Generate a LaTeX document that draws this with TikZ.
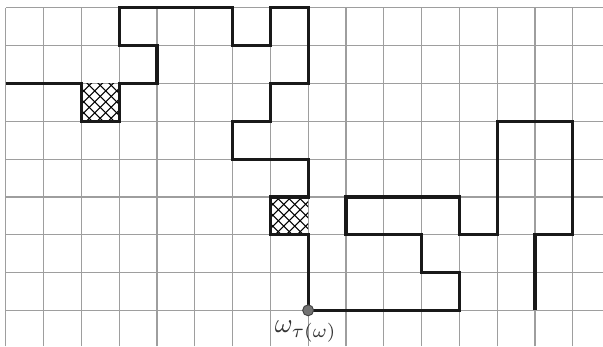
\documentclass[tikz,border=0pt]{standalone}
\begin{document}
\begin{tikzpicture}[x=1cm,y=1cm,
  gridline/.style={draw=black!38, line width=0.9pt},
  walk/.style={draw=black!90, line width=2.4pt, line join=miter, line cap=butt},
  hatch/.style={draw=black, line width=0.8pt},
  dotnode/.style={circle, fill=black!55, draw=black!75, line width=0.7pt, inner sep=0pt, minimum size=0.29cm}]
\useasboundingbox (-0.151,-0.944) rectangle (15.80,8.209);
% grid
\foreach \i in {0,...,15} \draw[gridline] (\i,-0.944) -- (\i,8);
\foreach \j in {0,...,8} \draw[gridline] (0,\j) -- (15.80,\j);
% hatched cells
\foreach \cx/\cy in {2/5, 7/2} {
  \begin{scope}
    \clip (\cx,\cy) rectangle ++(1,1);
    \foreach \k in {-4,...,8} {
      \draw[hatch] (\cx+\k*0.29,\cy) -- ++(-1.4,1.4);
      \draw[hatch] (\cx+1-\k*0.29,\cy) -- ++(1.4,1.4);
    }
  \end{scope}
}
% walk
\draw[walk] (0,6) -- (2,6) -- (2,5) -- (3,5) -- (3,6) -- (4,6) -- (4,7) -- (3,7) -- (3,8)
  -- (6,8) -- (6,7) -- (7,7) -- (7,8) -- (8,8) -- (8,6) -- (7,6) -- (7,5) -- (6,5) -- (6,4)
  -- (8,4) -- (8,3) -- (7,3) -- (7,2) -- (8,2) -- (8,0) -- (12,0) -- (12,1) -- (11,1) -- (11,2)
  -- (9,2) -- (9,3) -- (12,3) -- (12,2) -- (13,2) -- (13,5) -- (15,5) -- (15,2) -- (14,2) -- (14,0);
\node[dotnode] (tau) at (8,0) {};
\node[anchor=base, scale=2.05, text=black!80, inner sep=0pt] (lab) at (7.94,-0.58) {$\omega_{\tau(\omega)}$};
\end{tikzpicture}
\end{document}
